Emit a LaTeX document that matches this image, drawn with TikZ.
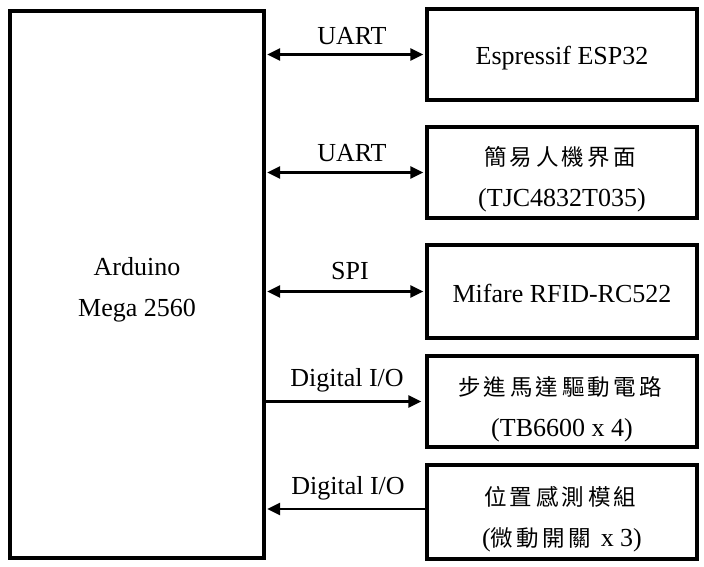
\documentclass[tikz,border=0pt]{standalone}
\usepackage{fontspec}
\setmainfont{Liberation Serif}
\newfontfamily\cjk{Noto Sans CJK TC}
\usetikzlibrary{arrows.meta}
\def\spcd#1{\spcdA#1\relax}
\def\spcdA#1{\ifx#1\relax\else#1\kern3.5pt\expandafter\spcdA\fi}
\newcommand{\zh}[1]{{\cjk\fontsize{22.5}{26}\selectfont\spcd{#1}}}
\tikzset{
  blk/.style={draw, line width=3.4pt, minimum width=270pt, inner sep=0pt},
  txt/.style={inner sep=0pt, align=center, font=\fontsize{26}{41}\selectfont},
  tip/.tip={Triangle[length=13pt,width=12pt]},
  lnk/.style={line width=2.6pt, {tip}-{tip}, shorten >=2pt, shorten <=1.5pt},
  lnkr/.style={line width=2.6pt, -{tip}, shorten >=4pt},
  lnkl/.style={line width=2.6pt, {tip}-, shorten <=1.5pt},
  lbl/.style={font=\fontsize{26}{30}\selectfont, inner sep=0pt}
}
\begin{document}
\begin{tikzpicture}[x=1pt,y=-1pt]
\useasboundingbox (0,0) rectangle (704,566);
\node[blk, minimum width=254pt, minimum height=547pt] (main) at (137,284.5) {};
\node[blk, minimum height=91pt] (b1) at (562,54.5) {};
\node[blk, minimum height=91pt] (b2) at (562,172.5) {};
\node[blk, minimum height=93pt] (b3) at (562,291.5) {};
\node[blk, minimum height=91pt] (b4) at (562,401.5) {};
\node[blk, minimum height=94pt] (b5) at (562,512) {};
\node[txt] (t0) at ([yshift=-5pt]main.center) {Arduino\\Mega 2560};
\node[txt] (t1) at ([yshift=-4pt]b1.center) {Espressif ESP32};
\node[txt] (t2) at ([yshift=-7pt]b2.center) {\zh{簡易人機界面}\\(TJC4832T035)};
\node[txt] (t3) at ([yshift=-2pt]b3.center) {Mifare RFID-RC522};
\node[txt] (t4) at ([yshift=-8pt]b4.center) {\zh{步進馬達驅動電路}\\(TB6600 x 4)};
\node[txt] (t5) at ([yshift=-7pt]b5.center) {\zh{位置感測模組}\\({\cjk\fontsize{22.5}{26}\selectfont\spcd{微動開關}}\hspace{6pt}x 3)};
\coordinate (b5in) at ([yshift=3pt]b5.west);
\draw[lnk] (main.east |- b1.west) -- (b1.west);
\draw[lnk] (main.east |- b2.west) -- (b2.west);
\draw[lnk] (main.east |- b3.west) -- (b3.west);
\draw[lnkr] (main.east |- b4.west) -- (b4.west);
\draw[lnkl] (main.east |- b5in) -- (b5in);
\node[lbl] (l1) at (352,36) {UART};
\node[lbl] (l2) at (352,153) {UART};
\node[lbl] (l3) at (350,271) {SPI};
\node[lbl] (l4) at (347,380) {Digital I/O};
\node[lbl] (l5) at (348,488) {Digital I/O};
\end{tikzpicture}
\end{document}
